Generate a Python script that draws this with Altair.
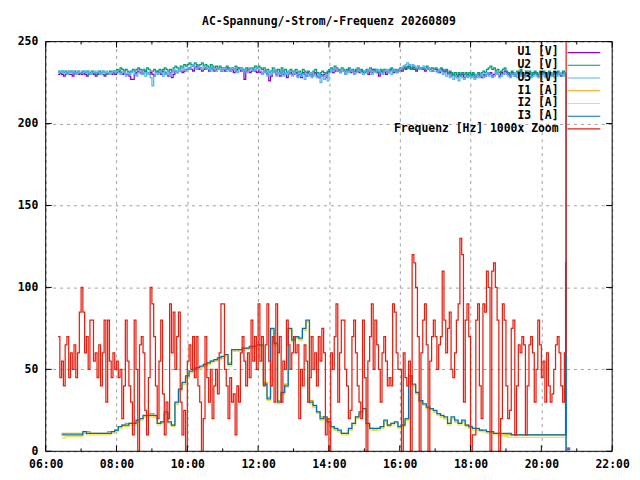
import pandas as pd
import altair as alt

TITLE = "AC-Spannung/-Strom/-Frequenz 20260809"
DAY = "2026-08-09"
FONT = "DejaVu Sans Mono"

SERIES = ["U1 [V]", "U2 [V]", "U3 [V]", "I1 [A]", "I2 [A]", "I3 [A]",
          "Frequenz [Hz] 1000x Zoom"]
COLORS = ["#9400d3", "#009e73", "#56b4e9", "#e69f00", "#f0e442", "#0072b2",
          "#e51e10"]

# voltages and frequency: one sample every 3 minutes from 06:21 to 20:39
FAST_START = "06:21"
U1 = [
    230, 231, 230, 229, 230, 231, 230, 230, 229, 231, 230, 230, 231,
    230, 231, 230, 229, 230, 230, 231, 230, 229, 230, 231, 230, 230, 229, 230, 231, 230, 230, 231, 230,
    231, 232, 231, 230, 231, 230, 230, 229, 227, 227, 230, 231, 232, 231, 230, 231, 232, 231, 230, 231,
    230, 229, 231, 232, 231, 230, 232, 231, 230, 229, 231, 228, 230, 232, 231, 233, 232, 231, 232, 233,
    233, 234, 233, 232, 234, 235, 233, 234, 232, 233, 234, 233, 232, 234, 233, 232, 233, 234, 233, 232,
    233, 232, 234, 233, 232, 233, 231, 232, 233, 234, 232, 233, 227, 232, 233, 231, 232, 233, 232, 231,
    232, 231, 230, 232, 231, 230, 226, 229, 231, 232, 230, 231, 229, 232, 230, 231, 228, 230, 231, 230,
    230, 231, 229, 230, 228, 231, 230, 229, 231, 230, 229, 230, 231, 229, 228, 230, 229, 230, 228, 231,
    232, 233, 231, 232, 233, 232, 231, 233, 232, 230, 232, 233, 231, 232, 230, 232, 233, 231, 232, 231,
    231, 232, 230, 232, 231, 233, 232, 231, 229, 232, 231, 232, 230, 231, 232, 233, 231, 232, 231, 232,
    233, 232, 234, 233, 234, 235, 233, 234, 233, 232, 234, 233, 234, 233, 232, 234, 233, 233, 232, 233,
    233, 232, 231, 233, 232, 231, 232, 230, 231, 229, 230, 229, 228, 230, 229, 230, 228, 229, 230, 229,
    229, 230, 228, 229, 230, 229, 228, 230, 229, 231, 230, 231, 229, 230, 231, 230, 229, 231, 230, 232,
    231, 230, 229, 231, 230, 229, 231, 230, 232, 230, 229, 231, 230, 231, 229, 230, 231, 230, 229, 231,
    230, 231, 229, 230, 231, 230, 229, 231, 230, 231, 230, 229, 231, 230,
]
U2 = [
    232, 231, 232, 231, 232, 231, 232, 232, 231, 232, 231, 232, 231,
    231, 232, 231, 232, 230, 231, 232, 231, 230, 231, 232, 231, 232, 231, 230, 231, 232, 231, 232, 232,
    233, 232, 234, 233, 232, 233, 232, 231, 232, 233, 232, 233, 234, 233, 232, 233, 232, 234, 233, 232,
    232, 233, 232, 231, 233, 232, 233, 234, 233, 232, 233, 232, 234, 235, 234, 233, 235, 234, 236, 235,
    236, 237, 236, 235, 237, 236, 235, 236, 237, 235, 236, 235, 234, 236, 235, 234, 235, 234, 235, 234,
    234, 233, 235, 234, 233, 234, 233, 235, 234, 233, 234, 233, 232, 234, 233, 234, 233, 234, 235, 234,
    235, 234, 233, 234, 232, 233, 231, 232, 234, 233, 232, 233, 231, 234, 232, 233, 231, 232, 233, 232,
    232, 233, 231, 232, 230, 233, 232, 231, 232, 231, 230, 232, 233, 231, 230, 231, 232, 231, 230, 232,
    233, 234, 233, 235, 234, 233, 232, 234, 233, 232, 233, 234, 232, 233, 232, 233, 234, 232, 233, 232,
    232, 233, 232, 234, 233, 232, 233, 232, 231, 233, 232, 233, 232, 231, 233, 234, 232, 233, 232, 233,
    234, 233, 235, 234, 235, 234, 233, 235, 234, 233, 235, 234, 233, 234, 233, 235, 234, 233, 234, 233,
    234, 233, 232, 234, 233, 232, 233, 231, 232, 231, 230, 231, 229, 231, 230, 231, 230, 231, 230, 231,
    230, 231, 230, 229, 231, 230, 231, 232, 231, 233, 234, 235, 233, 234, 232, 233, 231, 232, 233, 234,
    232, 231, 230, 232, 231, 230, 232, 231, 233, 231, 230, 232, 231, 232, 230, 231, 232, 231, 230, 232,
    231, 232, 230, 231, 232, 231, 230, 232, 231, 232, 231, 230, 232, 231,
]
U3 = [
    231, 232, 231, 232, 231, 230, 232, 231, 232, 231, 230, 232, 231,
    232, 231, 232, 231, 232, 230, 231, 232, 231, 232, 231, 230, 232, 231, 232, 231, 230, 231, 232, 231,
    232, 231, 230, 232, 231, 229, 231, 230, 231, 232, 230, 229, 231, 232, 230, 231, 229, 231, 230, 228,
    223, 229, 231, 230, 232, 231, 229, 232, 230, 231, 229, 231, 233, 232, 231, 233, 232, 234, 233, 232,
    234, 233, 235, 236, 234, 233, 235, 234, 233, 235, 234, 233, 234, 232, 234, 233, 232, 234, 233, 232,
    233, 234, 232, 233, 232, 234, 233, 232, 231, 233, 234, 232, 233, 231, 232, 234, 233, 232, 233, 234,
    233, 232, 230, 232, 231, 229, 232, 230, 231, 233, 229, 231, 230, 232, 229, 231, 230, 232, 230, 229,
    231, 230, 228, 231, 229, 230, 227, 230, 229, 231, 228, 230, 229, 228, 230, 225, 229, 227, 230, 226,
    231, 233, 232, 234, 233, 232, 231, 233, 232, 230, 232, 231, 233, 232, 230, 231, 233, 232, 231, 230,
    232, 231, 233, 232, 230, 232, 231, 233, 232, 231, 230, 232, 233, 231, 232, 230, 233, 232, 231, 232,
    233, 234, 235, 236, 237, 236, 235, 236, 235, 234, 235, 233, 234, 235, 234, 233, 234, 232, 233, 232,
    232, 231, 233, 232, 230, 231, 229, 230, 228, 229, 227, 229, 228, 226, 229, 228, 227, 229, 228, 229,
    228, 229, 227, 230, 228, 229, 230, 228, 229, 231, 229, 230, 228, 229, 231, 230, 228, 229, 230, 231,
    230, 229, 228, 230, 229, 231, 228, 230, 229, 230, 228, 229, 231, 230, 228, 229, 230, 229, 228, 230,
    229, 230, 228, 229, 230, 231, 229, 228, 230, 229, 231, 230, 229, 231,
]
FREQ = [
    70, 45, 55, 40, 65, 70, 45, 60, 50, 65, 45, 60, 85,
    100, 85, 60, 70, 50, 80, 80, 55, 60, 45, 65, 40, 60, 80, 30, 80, 55, 45, 60, 50,
    55, 45, 50, 20, 40, 80, 55, 40, 30, 10, 80, 50, 0, 65, 70, 60, 25, 10, 45, 100,
    90, 70, 40, 20, 55, 80, 35, 10, 30, 20, 90, 60, 85, 50, 70, 85, 30, 10, 25, 0,
    55, 65, 50, 70, 45, 70, 40, 30, 0, 20, 70, 45, 30, 50, 20, 40, 50, 35, 60, 90,
    90, 50, 40, 20, 45, 30, 35, 10, 40, 30, 60, 70, 55, 40, 60, 45, 80, 55, 70, 50,
    90, 55, 70, 40, 65, 90, 55, 40, 70, 30, 90, 60, 70, 30, 55, 50, 80, 65, 50, 60,
    70, 60, 65, 20, 50, 40, 65, 55, 30, 45, 70, 50, 60, 40, 70, 55, 75, 60, 10, 20,
    0, 60, 50, 70, 90, 30, 60, 80, 80, 50, 40, 20, 25, 70, 80, 60, 40, 30, 20, 80,
    45, 0, 55, 70, 90, 50, 80, 65, 50, 30, 60, 70, 55, 40, 45, 40, 90, 85, 60, 50,
    50, 0, 60, 45, 40, 55, 0, 120, 115, 100, 70, 0, 60, 80, 90, 65, 0, 55, 70, 80,
    70, 50, 65, 70, 110, 80, 60, 75, 85, 50, 45, 60, 80, 90, 130, 120, 30, 80, 90, 70,
    0, 10, 10, 80, 90, 40, 20, 90, 85, 110, 100, 0, 110, 115, 100, 80, 0, 20, 90, 80,
    40, 20, 25, 75, 80, 10, 40, 65, 60, 70, 65, 10, 40, 65, 70, 60, 30, 50, 80, 65,
    45, 55, 30, 60, 40, 30, 35, 50, 65, 70, 60, 40, 30, 60,
]

# currents: one sample every 6 minutes from 06:27 to 20:39
SLOW_START = "06:27"
I1 = [
    11, 11, 11, 11, 11, 11,
    12, 12, 11, 11, 11, 11, 11, 12, 12, 13,
    15, 16, 17, 17, 17, 18, 20, 21, 22, 23,
    21, 17, 18, 23, 17, 16, 29, 37, 41, 45,
    48, 50, 51, 51, 52, 54, 55, 55, 56, 57,
    58, 54, 61, 62, 61, 62, 63, 63, 64, 64,
    64, 42, 33, 74, 65, 31, 35, 41, 74, 67,
    69, 68, 74, 79, 31, 27, 24, 21, 20, 18,
    15, 13, 12, 11, 11, 13, 17, 21, 23, 25,
    17, 14, 13, 14, 15, 18, 16, 17, 17, 15,
    16, 19, 45, 40, 35, 31, 28, 26, 25, 24,
    23, 21, 20, 17, 20, 18, 17, 18, 16, 15,
    14, 13, 13, 12, 12, 11, 11, 11, 10, 10,
    10, 10, 10, 10, 10, 10, 10, 10, 10, 10,
    10, 10, 10, 10, 10, 10, 10,
]
I2 = [
    8, 9, 9, 9, 9, 9,
    11, 10, 10, 10, 10, 10, 10, 10, 11, 12,
    14, 15, 15, 16, 16, 18, 19, 21, 21, 21,
    21, 16, 17, 23, 17, 15, 29, 37, 41, 45,
    48, 49, 50, 51, 52, 53, 54, 55, 56, 57,
    58, 52, 61, 61, 61, 62, 62, 63, 63, 64,
    64, 40, 31, 74, 65, 29, 35, 39, 74, 67,
    69, 68, 74, 79, 29, 27, 23, 19, 20, 17,
    14, 13, 12, 10, 10, 13, 16, 20, 23, 25,
    16, 13, 13, 13, 14, 18, 15, 16, 17, 14,
    15, 19, 45, 40, 35, 30, 28, 26, 25, 24,
    22, 21, 20, 16, 20, 18, 16, 18, 15, 14,
    13, 13, 12, 12, 11, 11, 10, 10, 10, 9,
    8.5, 8.5, 8.5, 8.5, 8.5, 8.5, 8.5, 8.5, 8.5, 8.5,
    8.5, 8.5, 8.5, 8.5, 8.5, 8.5, 8.5,
]
I3 = [
    10, 10, 10, 10, 10, 10,
    12, 11, 11, 11, 11, 11, 11, 11, 12, 13,
    15, 16, 16, 17, 17, 19, 20, 22, 22, 22,
    22, 17, 18, 24, 18, 16, 30, 38, 42, 46,
    49, 50, 51, 52, 53, 54, 55, 56, 57, 58,
    59, 53, 62, 62, 62, 63, 63, 64, 64, 65,
    65, 41, 32, 75, 66, 30, 36, 40, 75, 68,
    70, 69, 75, 80, 30, 28, 24, 20, 21, 18,
    15, 14, 13, 11, 11, 14, 17, 21, 24, 26,
    17, 14, 14, 14, 15, 19, 16, 17, 18, 15,
    16, 20, 46, 41, 36, 31, 29, 27, 26, 25,
    23, 22, 21, 17, 21, 19, 17, 19, 16, 15,
    14, 14, 13, 13, 12, 12, 11, 11, 11, 11,
    11, 10, 10, 10, 10, 10, 10, 10, 10, 10,
    10, 10, 10, 10, 10, 10, 10,
]

# switch-off at the end of the day: (time, value)
U1_END = [("20:42", 2), ("20:49", 2)]
U2_END = [("20:42", 1), ("20:49", 1)]
U3_END = [("20:42", 0), ("20:49", 0)]
I1_END = [("20:42", 0)]
I2_END = [("20:42", 0)]
I3_END = [("20:41", 115), ("20:42", 0)]
FREQ_END = [("20:42", 3000)]

X_TICKS = [6, 8, 10, 12, 14, 16, 18, 20, 22]
Y_TICKS = [0, 50, 100, 150, 200, 250]


def hours(stamps):
    # clock time as hours after midnight
    midnight = pd.Timestamp(DAY)
    return [(t - midnight) / pd.Timedelta(hours=1) for t in stamps]


def series_frame(name, start, step, values, tail):
    stamps = list(pd.date_range(f"{DAY} {start}", periods=len(values), freq=step))
    stamps += [pd.Timestamp(f"{DAY} {t}") for t, _ in tail]
    vals = list(values) + [v for _, v in tail]
    return pd.DataFrame({"hour": hours(stamps), "value": vals, "series": name})


volt = pd.concat([
    series_frame(SERIES[0], FAST_START, "3min", U1, U1_END),
    series_frame(SERIES[1], FAST_START, "3min", U2, U2_END),
    series_frame(SERIES[2], FAST_START, "3min", U3, U3_END),
])
curr = pd.concat([
    series_frame(SERIES[3], SLOW_START, "6min", I1, I1_END),
    series_frame(SERIES[4], SLOW_START, "6min", I2, I2_END),
    series_frame(SERIES[5], SLOW_START, "6min", I3, I3_END),
])
freq = series_frame(SERIES[6], FAST_START, "3min", FREQ, FREQ_END)

# inward tick marks on the frame, like gnuplot draws them
tick_hours = list(range(6, 23))
x_ticks = pd.DataFrame(
    [{"hour": h, "value": 0, "value2": 3.6 if h % 2 == 0 else 1.8} for h in tick_hours]
    + [{"hour": h, "value": 250, "value2": 246.4 if h % 2 == 0 else 248.2} for h in tick_hours]
)
y_ticks = pd.DataFrame(
    [{"hour": 6, "hour2": 6.17, "value": v} for v in Y_TICKS]
    + [{"hour": 22, "hour2": 21.83, "value": v} for v in Y_TICKS]
)
frame = pd.DataFrame({"hour": [6], "hour2": [22], "value": [0], "value2": [250]})
# gnuplot-style key: text on the left, line sample on the right
key = pd.DataFrame({"series": SERIES, "row": list(range(len(SERIES)))})

x_scale = alt.Scale(domain=[6, 22], nice=False, zero=False)
y_scale = alt.Scale(domain=[0, 250], nice=False)
x_axis = alt.Axis(values=X_TICKS, labelExpr="(datum.value < 10 ? '0' : '') + datum.value + ':00'",
                  labelFlush=False, ticks=False, domain=False, labelPadding=7,
                  gridDash=[3, 4], gridColor="#a0a0a0", gridOpacity=1)
y_axis = alt.Axis(values=Y_TICKS, ticks=False, domain=False, labelPadding=8,
                  gridDash=[3, 4], gridColor="#a0a0a0", gridOpacity=1)
x_enc = alt.X("hour:Q", title=None, scale=x_scale, axis=x_axis)
y_enc = alt.Y("value:Q", title=None, scale=y_scale, axis=y_axis)
color_enc = alt.Color("series:N", scale=alt.Scale(domain=SERIES, range=COLORS), legend=None)

lines = [
    alt.Chart(df).mark_line(interpolate="step-after", strokeWidth=1.25, clip=True).encode(
        x=x_enc, y=y_enc, color=color_enc
    )
    for df in (volt, curr, freq)
]
ticks_x = alt.Chart(x_ticks).mark_rule(color="black", strokeWidth=1).encode(
    x=x_enc, y=y_enc, y2="value2:Q"
)
ticks_y = alt.Chart(y_ticks).mark_rule(color="black", strokeWidth=1).encode(
    x=x_enc, x2="hour2:Q", y=y_enc
)
border = alt.Chart(frame).mark_rect(fill="transparent", stroke="black", strokeWidth=1).encode(
    x=x_enc, x2="hour2:Q", y=y_enc, y2="value2:Q"
)

key_base = alt.Chart(key).transform_calculate(
    ky="(402 - 12.85 * datum.row) * 250 / 413"
)
key_text = key_base.mark_text(
    align="right", baseline="middle", font=FONT, fontSize=11.5, fontWeight="bold", color="black"
).encode(
    x=alt.value(517),
    y=alt.Y("ky:Q", title=None, scale=y_scale, axis=y_axis),
    text="series:N",
)
key_line = key_base.mark_rule(strokeWidth=1.25).encode(
    x=alt.value(526),
    x2=alt.value(559),
    y=alt.Y("ky:Q", title=None, scale=y_scale, axis=y_axis),
    color=color_enc,
)

chart = (
    alt.layer(*lines, ticks_x, ticks_y, border, key_text, key_line)
    .properties(
        width=571,
        height=413,
        title=alt.Title(TITLE, font=FONT, fontSize=11.5, fontWeight="bold",
                        anchor="middle", frame="group", offset=8, color="black"),
        autosize=alt.AutoSizeParams(type="none"),
        padding={"left": 38, "top": 32, "right": 20, "bottom": 20},
    )
    .configure_view(stroke=None)
    .configure_axis(labelFont=FONT, labelFontSize=11.5, labelFontWeight="bold",
                    labelColor="black")
)

chart.save("out.html", embed_options={"renderer": "svg", "actions": False})
